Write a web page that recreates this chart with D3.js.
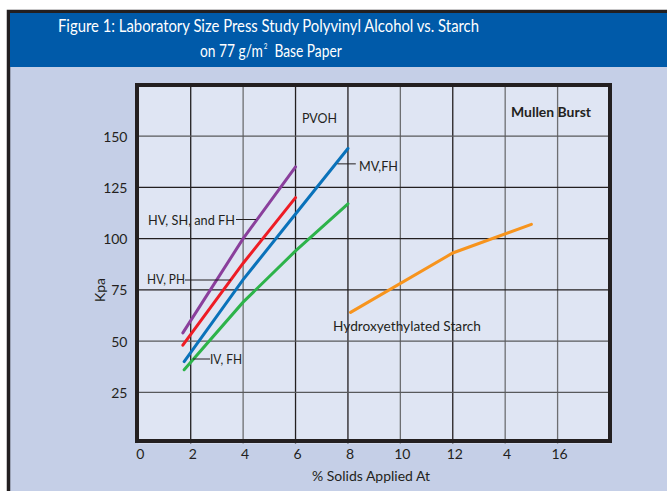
<!DOCTYPE html>
<html>
<head>
<meta charset="utf-8">
<script src="https://cdn.jsdelivr.net/npm/d3@7"></script>
<style>
  body { margin: 0; background: #fff; }
  svg text { font-family: Lato, "Open Sans", sans-serif; fill: #231f20; }
</style>
</head>
<body>
<svg width="667" height="491"></svg>
<script>
// values
var xTicks = [0, 2, 4, 6, 8, 10, 12, 14, 16];
var xTickLabels = ["0", "2", "4", "6", "8", "10", "12", "4", "16"];
var yTicks = [25, 50, 75, 100, 125, 150];

var purpleX = [1.7, 4, 6];
var purpleY = [54, 100, 135];
var redX = [1.7, 4, 6];
var redY = [48, 88, 120];
var blueX = [1.75, 4, 6, 8];
var blueY = [40, 80, 112, 144];
var greenX = [1.75, 4, 6, 8];
var greenY = [36, 69, 94, 117];
var starchX = [8.1, 12, 15];
var starchY = [64, 93, 107];

var series = [
  { name: "HV, SH, and FH", color: "#8a3f9c", xs: purpleX, ys: purpleY },
  { name: "HV, PH", color: "#ee1c25", xs: redX, ys: redY },
  { name: "MV,FH", color: "#0a72ba", xs: blueX, ys: blueY },
  { name: "IV, FH", color: "#2db34a", xs: greenX, ys: greenY },
  { name: "Hydroxyethylated Starch", color: "#f7941d", xs: starchX, ys: starchY }
];

var svg = d3.select("svg"),
  width = +svg.attr("width"),
  height = +svg.attr("height");

// page background + frame
svg.append("rect").attr("x", 0).attr("y", 0).attr("width", width).attr("height", height).attr("fill", "#fff");
svg.append("rect")
  .attr("x", 8.5).attr("y", 11.5).attr("width", width).attr("height", height)
  .attr("fill", "#c5cfe7").attr("stroke", "#231f20").attr("stroke-width", 3.5);
svg.append("rect")
  .attr("x", 10).attr("y", 13).attr("width", width).attr("height", 54)
  .attr("fill", "#005aa9");

// title, squeezed to the widths in the figure
svg.append("text")
  .attr("x", 58).attr("y", 31.5)
  .attr("font-size", 17.5).style("fill", "#fff")
  .attr("textLength", 421).attr("lengthAdjust", "spacingAndGlyphs")
  .text("Figure 1: Laboratory Size Press Study Polyvinyl Alcohol vs. Starch");

var sub = svg.append("text")
  .attr("font-size", 17.5).style("fill", "#fff");
sub.append("tspan").text("on 77 g/m");
sub.append("tspan").attr("font-size", 8).attr("dy", -8).attr("dx", 1).text("2");
sub.append("tspan").attr("dy", 8).text("\u00a0 Base Paper");
var subW = sub.node().getComputedTextLength();
sub.attr("transform", "translate(200,57) scale(" + (141 / subW) + ",1)");

var x = d3.scaleLinear().domain([0, 18]).range([138.3, 610]);
var y = d3.scaleLinear().domain([0, 175]).range([443.5, 85]);

// plot background
svg.append("rect")
  .attr("x", x(0)).attr("y", y(175))
  .attr("width", x(18) - x(0)).attr("height", y(0) - y(175))
  .attr("fill", "#dfe5f3");

// grid
var darkX = [2, 6, 8, 12];
svg.append("g").selectAll("line").data(xTicks.slice(1)).enter().append("line")
  .attr("x1", d => x(d)).attr("x2", d => x(d))
  .attr("y1", y(175)).attr("y2", y(0))
  .attr("stroke", d => darkX.indexOf(d) >= 0 ? "#231f20" : "#6d6e71")
  .attr("stroke-width", 1.3);
var darkY = [75, 100, 125];
svg.append("g").selectAll("line").data(yTicks).enter().append("line")
  .attr("x1", x(0)).attr("x2", x(18))
  .attr("y1", d => y(d)).attr("y2", d => y(d))
  .attr("stroke", d => darkY.indexOf(d) >= 0 ? "#231f20" : "#58595b")
  .attr("stroke-width", 1.3);

// axes (labels only)
var xAxis = svg.append("g")
  .attr("transform", "translate(0," + 459 + ")")
  .call(d3.axisBottom(x).tickValues(xTicks).tickSize(0).tickPadding(0)
    .tickFormat((d, i) => xTickLabels[i]));
xAxis.select(".domain").remove();
xAxis.selectAll("text").attr("dy", 0).attr("x", 1.5).attr("font-size", 14).attr("font-family", null).style("fill", "#231f20");

var yAxis = svg.append("g")
  .attr("transform", "translate(" + 127.5 + ",0)")
  .call(d3.axisLeft(y).tickValues(yTicks).tickSize(0).tickPadding(0));
yAxis.select(".domain").remove();
yAxis.selectAll("text").attr("dy", "0.36em").attr("font-size", 14).attr("font-family", null).style("fill", "#231f20");

// frame
svg.append("rect")
  .attr("x", 137).attr("y", 85).attr("width", 610 - 137).attr("height", 441 - 85)
  .attr("fill", "none").attr("stroke", "#231f20").attr("stroke-width", 4);

// series lines
var line = d3.line().x(d => x(d[0])).y(d => y(d[1]));
svg.append("g").selectAll("path").data(series).enter().append("path")
  .attr("d", s => line(d3.zip(s.xs, s.ys)))
  .attr("fill", "none")
  .attr("stroke", s => s.color)
  .attr("stroke-width", 3)
  .attr("stroke-linecap", "round");

// leaders
var leaders = [
  [x(7.6), y(136.5), x(8.3), y(136.5)],
  [236, 219.5, 256, 219.5],
  [185, 280, 231, 280],
  [193, 359, 210, 359]
];
svg.append("g").selectAll("line").data(leaders).enter().append("line")
  .attr("x1", d => d[0]).attr("y1", d => d[1]).attr("x2", d => d[2]).attr("y2", d => d[3])
  .attr("stroke", "#231f20").attr("stroke-width", 1);

// annotations
var notes = [
  { t: "PVOH", x: 302, y: 123, w: 35, b: false },
  { t: "Mullen Burst", x: 511, y: 117, w: 80, b: true },
  { t: "MV,FH", x: 359, y: 170.5, w: 39, b: false },
  { t: "HV, SH, and FH", x: 148, y: 224.5, w: 87, b: false },
  { t: "HV, PH", x: 147, y: 284, w: 38, b: false },
  { t: "IV, FH", x: 210, y: 363.5, w: 32, b: false },
  { t: "Hydroxyethylated Starch", x: 333, y: 330.5, w: 148, b: false }
];
svg.append("g").selectAll("text").data(notes).enter().append("text")
  .attr("x", d => d.x).attr("y", d => d.y)
  .attr("font-size", 14)
  .attr("font-weight", d => d.b ? "bold" : "normal")
  .attr("textLength", d => d.w).attr("lengthAdjust", "spacingAndGlyphs")
  .text(d => d.t);

// axis titles
svg.append("text")
  .attr("x", 312).attr("y", 481)
  .attr("font-size", 14).attr("textLength", 118).attr("lengthAdjust", "spacingAndGlyphs")
  .text("% Solids Applied At");
svg.append("text")
  .attr("transform", "translate(105,290) rotate(-90)").attr("text-anchor", "middle")
  .attr("font-size", 14).text("Kpa");
</script>
</body>
</html>
